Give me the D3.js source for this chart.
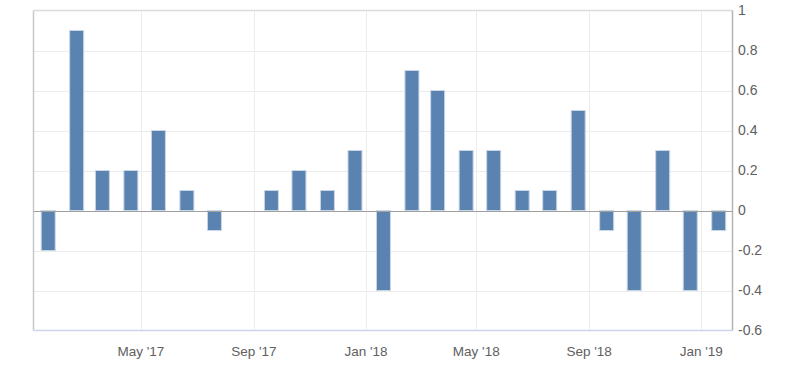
<!DOCTYPE html>
<html><head><meta charset="utf-8">
<script src="https://cdn.jsdelivr.net/npm/d3@7"></script>
<style>body{margin:0;background:#fff}svg{display:block;font-family:"Liberation Sans",Arial,sans-serif}</style>
</head><body><svg id="c" width="800" height="366"></svg>
<script>
const months = ["2017-01","2017-02","2017-03","2017-04","2017-05","2017-06","2017-07","2017-08","2017-09","2017-10","2017-11","2017-12","2018-01","2018-02","2018-03","2018-04","2018-05","2018-06","2018-07","2018-08","2018-09","2018-10","2018-11","2018-12","2019-01"];
const values = [-0.2,0.9,0.2,0.2,0.4,0.1,-0.1,0,0.1,0.2,0.1,0.3,-0.4,0.7,0.6,0.3,0.3,0.1,0.1,0.5,-0.1,-0.4,0.3,-0.4,-0.1];
const yTicks = [-0.6,-0.4,-0.2,0,0.2,0.4,0.6,0.8,1];
const xTickLabels = ["May '17","Sep '17","Jan '18","May '18","Sep '18","Jan '19"];
const xTickDates = ["2017-05","2017-09","2018-01","2018-05","2018-09","2019-01"];

const svg = d3.select("#c");
const L = 33.5, R = 732.5, T = 10.5, B = 330.5;
const x = d3.scaleUtc().domain([Date.UTC(2017,0,4), Date.UTC(2019,1,4)]).range([L, R]);
const y = d3.scaleLinear().domain([-0.6, 1]).range([B, T]);
const parse = (s, d) => { const [yy, mm] = s.split("-").map(Number); return new Date(Date.UTC(yy, mm - 1, d)); };

// horizontal grid
svg.append("g").selectAll("line").data(yTicks.filter(v => v !== 0 && v !== 1 && v !== -0.6)).join("line")
  .attr("x1", L).attr("x2", R).attr("y1", d => Math.round(y(d)) + 0.5).attr("y2", d => Math.round(y(d)) + 0.5)
  .attr("stroke", "#ececec").attr("stroke-width", 1);
// vertical grid
svg.append("g").selectAll("line").data(xTickDates).join("line")
  .attr("x1", d => Math.round(x(parse(d,1))) + 0.5).attr("x2", d => Math.round(x(parse(d,1))) + 0.5)
  .attr("y1", T).attr("y2", B).attr("stroke", "#ececec");

// borders
svg.append("line").attr("x1", L).attr("x2", R).attr("y1", T).attr("y2", T).attr("stroke", "#dcdcdc").attr("stroke-width", 1.5);
svg.append("line").attr("x1", L).attr("x2", L).attr("y1", T).attr("y2", B).attr("stroke", "#c8c8c8").attr("stroke-width", 1.5);
svg.append("line").attr("x1", R).attr("x2", R).attr("y1", T).attr("y2", B).attr("stroke", "#b4b4b4").attr("stroke-width", 1.5);
svg.append("line").attr("x1", L).attr("x2", R).attr("y1", B).attr("y2", B).attr("stroke", "#ccd6eb").attr("stroke-width", 1.5);

// bars
const bw = 14;
svg.append("g").selectAll("rect").data(months.map((m, i) => ({ d: parse(m, 20), v: values[i] }))).join("rect")
  .attr("x", d => x(d.d) - bw / 2)
  .attr("width", bw)
  .attr("y", d => Math.min(y(d.v), y(0)))
  .attr("height", d => Math.abs(y(d.v) - y(0)))
  .attr("fill", "#5b83b1").attr("stroke", "#c9d6e6").attr("stroke-width", 1);

// zero line
svg.append("line").attr("x1", L).attr("x2", R).attr("y1", Math.round(y(0)) + 0.5).attr("y2", Math.round(y(0)) + 0.5)
  .attr("stroke", "#a0a0a0").attr("stroke-width", 1.2);

// y labels (right)
svg.append("g").selectAll("text").data(yTicks).join("text")
  .attr("x", 738).attr("y", d => y(d)).attr("dy", "0.35em")
  .attr("font-size", 14).attr("fill", "#606060")
  .text(d => d3.format("")(d).replace("−", "-"));

// x labels
svg.append("g").selectAll("text").data(xTickDates).join("text")
  .attr("x", d => x(parse(d,1))).attr("y", 355.5).attr("text-anchor", "middle")
  .attr("font-size", 13.5).attr("fill", "#606060")
  .text((d, i) => xTickLabels[i]);
</script></body></html>
